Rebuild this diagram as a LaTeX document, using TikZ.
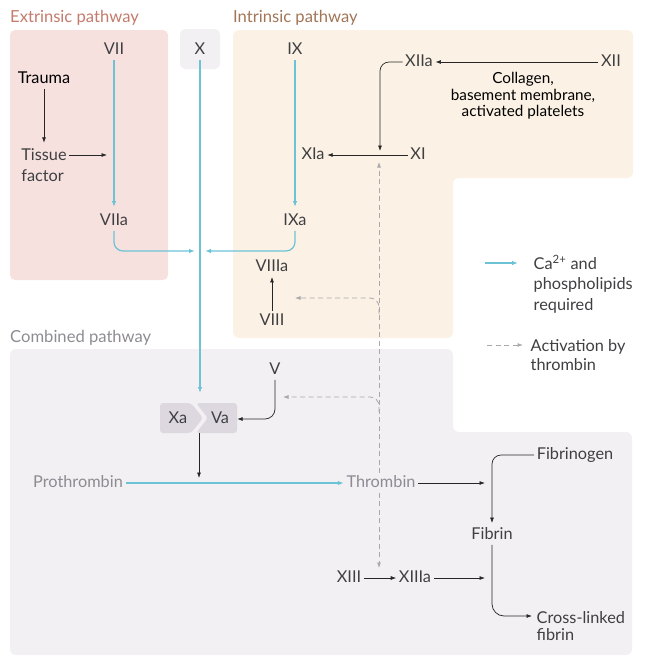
\documentclass[tikz,border=0pt]{standalone}
\usepackage{fontspec}
\setmainfont{Lato}
\usetikzlibrary{arrows.meta, positioning, calc}
\definecolor{Ink}{HTML}{3F3F42}
\definecolor{Dim}{HTML}{8E8B92}
\definecolor{Calc}{HTML}{6CC3D5}
\definecolor{Thr}{HTML}{A9A8AC}
\definecolor{ExtFill}{HTML}{F6E1DF}
\definecolor{ExtText}{HTML}{C47A6C}
\definecolor{IntFill}{HTML}{FBF2E5}
\definecolor{IntText}{HTML}{A27556}
\definecolor{ComFill}{HTML}{F2F0F3}
\definecolor{ComText}{HTML}{8E8B92}
\definecolor{XaVa}{HTML}{DDD8E0}

\begin{document}
\begin{tikzpicture}[
    x=1pt, y=-1pt,
    factor/.style={font=\fontsize{16.3}{19}\selectfont, text=Ink, inner sep=2.5pt, text height=11.5pt, text depth=3pt},
    multi/.style={font=\fontsize{16.3}{#1}\selectfont, text=Ink, inner sep=2.5pt, align=left},
    title/.style={font=\fontsize{16.6}{19}\selectfont, anchor=west, inner sep=0pt},
    xava/.style={factor, inner xsep=8pt},
    ca/.style={-{Latex[length=6pt,width=4.5pt]}, Calc, line width=1.2pt},
    act/.style={-{Latex[length=5.5pt,width=4pt]}, black!85, line width=0.7pt},
    thr/.style={-{Latex[length=5.5pt,width=4pt]}, Thr, dash pattern=on 5pt off 3.5pt, line width=0.8pt},
    rc/.style={rounded corners=9pt}
]
\useasboundingbox (0,0) rectangle (648,670);

% pathway areas
\fill[ExtFill, rounded corners=5pt] (10,30) rectangle (168,280);
\fill[ComFill, rounded corners=5pt] (180,29) rectangle (220,69);
\fill[IntFill, rounded corners=6pt] (233,30) -- (633,30) -- (633,178) -- (453,178) -- (453,338) -- (233,338) -- cycle;
\fill[ComFill, rounded corners=6pt] (10,349) -- (453,349) -- (453,432) -- (632,432) -- (632,655) -- (10,655) -- cycle;

\node[title, text=ExtText] (exttitle) at (10,18) {Extrinsic pathway};
\node[title, text=IntText] (inttitle) at (233,18) {Intrinsic pathway};
\node[title, text=ComText] (comtitle) at (10,338) {Combined pathway};

% extrinsic
\node[factor] (vii) at (114,50) {VII};
\node[factor, text=black] (trauma) at (44,79) {Trauma};
\node[multi=21] (tissue) at (44,165) {Tissue\\factor};
\node[factor] (viia) at (114,221) {VIIa};
\coordinate (tfend) at (107,155);

% factor X
\node[factor] (x) at (200,50) {X};
\coordinate (join) at (200,251);

% intrinsic
\node[factor] (ix) at (295,50) {IX};
\node[factor] (ixa) at (295,221) {IXa};
\node[factor] (xiia) at (419,62) {XIIa};
\node[factor] (xii) at (611,62) {XII};
\node[font=\fontsize{15.3}{16.5}\selectfont, align=center, text=black] (collagen) at (523,96) {Collagen,\\basement membrane,\\activated platelets};
\node[factor] (xia) at (313,155) {XIa};
\node[factor] (xi) at (418,155) {XI};
\coordinate (xiiaend) at (380,151);
\node[factor] (viiia) at (272,267) {VIIIa};
\node[factor] (viii) at (272,321) {VIII};

% legend
\coordinate (cakeyA) at (485,263);
\coordinate (cakeyB) at (518,263);
\node[multi=20.5, anchor=west] (calabel) at (531,284) {Ca\textsuperscript{2+} and\\phospholipids\\required};
\coordinate (thrkeyA) at (487,345);
\coordinate (thrkeyB) at (523,345);
\node[multi=18.5, anchor=west] (thrlabel) at (528,355) {Activation by\\thrombin};

% combined
\fill[XaVa, rounded corners=3pt] (160,403) -- (191,403) -- (203,418) -- (191,433) -- (160,433) -- cycle;
\fill[XaVa, rounded corners=3pt] (196,403) -- (237,403) -- (237,433) -- (196,433) -- (208,418) -- cycle;
\node[factor] (v) at (275,370) {V};
\node[xava] (xa) at (178,419) {Xa};
\node[xava] (va) at (220,419) {Va};
\coordinate (xavatop) at (200,403);
\coordinate (xavabot) at (199,433);
\coordinate (cleave) at (199,483);
\node[factor, text=Dim] (prothrombin) at (78,483) {Prothrombin};
\node[factor, text=Dim] (thrombin) at (381,483) {Thrombin};
\node[factor] (fibrinogen) at (575,455) {Fibrinogen};
\node[factor] (fibrin) at (492,535) {Fibrin};
\node[factor] (xiii) at (349,578) {XIII};
\node[factor] (xiiia) at (415,578) {XIIIa};
\node[multi=17.3, anchor=west] (crosslinked) at (534,626) {Cross-linked\\fibrin};
\coordinate (fibjoinA) at (492,483);
\coordinate (fibjoinB) at (492,578);
\coordinate (clend) at (532,616);

% thrombin feedback
\coordinate (xiact) at (379,162);
\coordinate (xiiiact) at (379,568);
\coordinate (viiiact) at (295,298);
\coordinate (vact) at (283,397);
\coordinate (brA) at (379,314);
\coordinate (brB) at (379,412);

% connectors
\draw[ca, shorten >=4pt] (vii) -- (viia);
\draw[act, shorten >=3pt] (trauma) -- (tissue);
\draw[act] (tissue.east |- tfend) -- (tfend);
\draw[ca, rc, shorten >=5pt] (viia) |- (join);
\draw[ca, shorten >=4pt] (ix) -- (ixa);
\draw[ca, rc, shorten >=5pt] (ixa) |- (join);
\draw[ca, shorten >=10pt] (x) -- (xavatop);
\draw[act] (xii) -- (xiia);
\draw[act, rc] (xiia.west) -| (xiiaend);
\draw[act] (xi) -- (xia);
\draw[act] (viii) -- (viiia);

\draw[ca] (cakeyA) -- (cakeyB);
\draw[thr] (thrkeyA) -- (thrkeyB);

\draw[act, rounded corners=10pt] (v) |- (va);
\draw[act, shorten >=5pt] (xavabot) -- (cleave);
\draw[ca] (prothrombin) -- (thrombin);
\draw[act, shorten >=7pt] (thrombin) -- (fibjoinA);
\draw[act, rc, shorten >=2pt] (fibrinogen) -| (fibrin);
\draw[act, rounded corners=12pt] (fibrin) |- (clend);
\draw[act] (xiii) -- (xiiia);
\draw[act, shorten >=7pt] (xiiia) -- (fibjoinB);

\draw[thr] (thrombin.north -| xiact) -- (xiact);
\draw[thr] (thrombin.south -| xiiiact) -- (xiiiact);
\draw[thr, rc] (brA) |- (viiiact);
\draw[thr, rc] (brB) |- (vact);
\end{tikzpicture}
\end{document}
